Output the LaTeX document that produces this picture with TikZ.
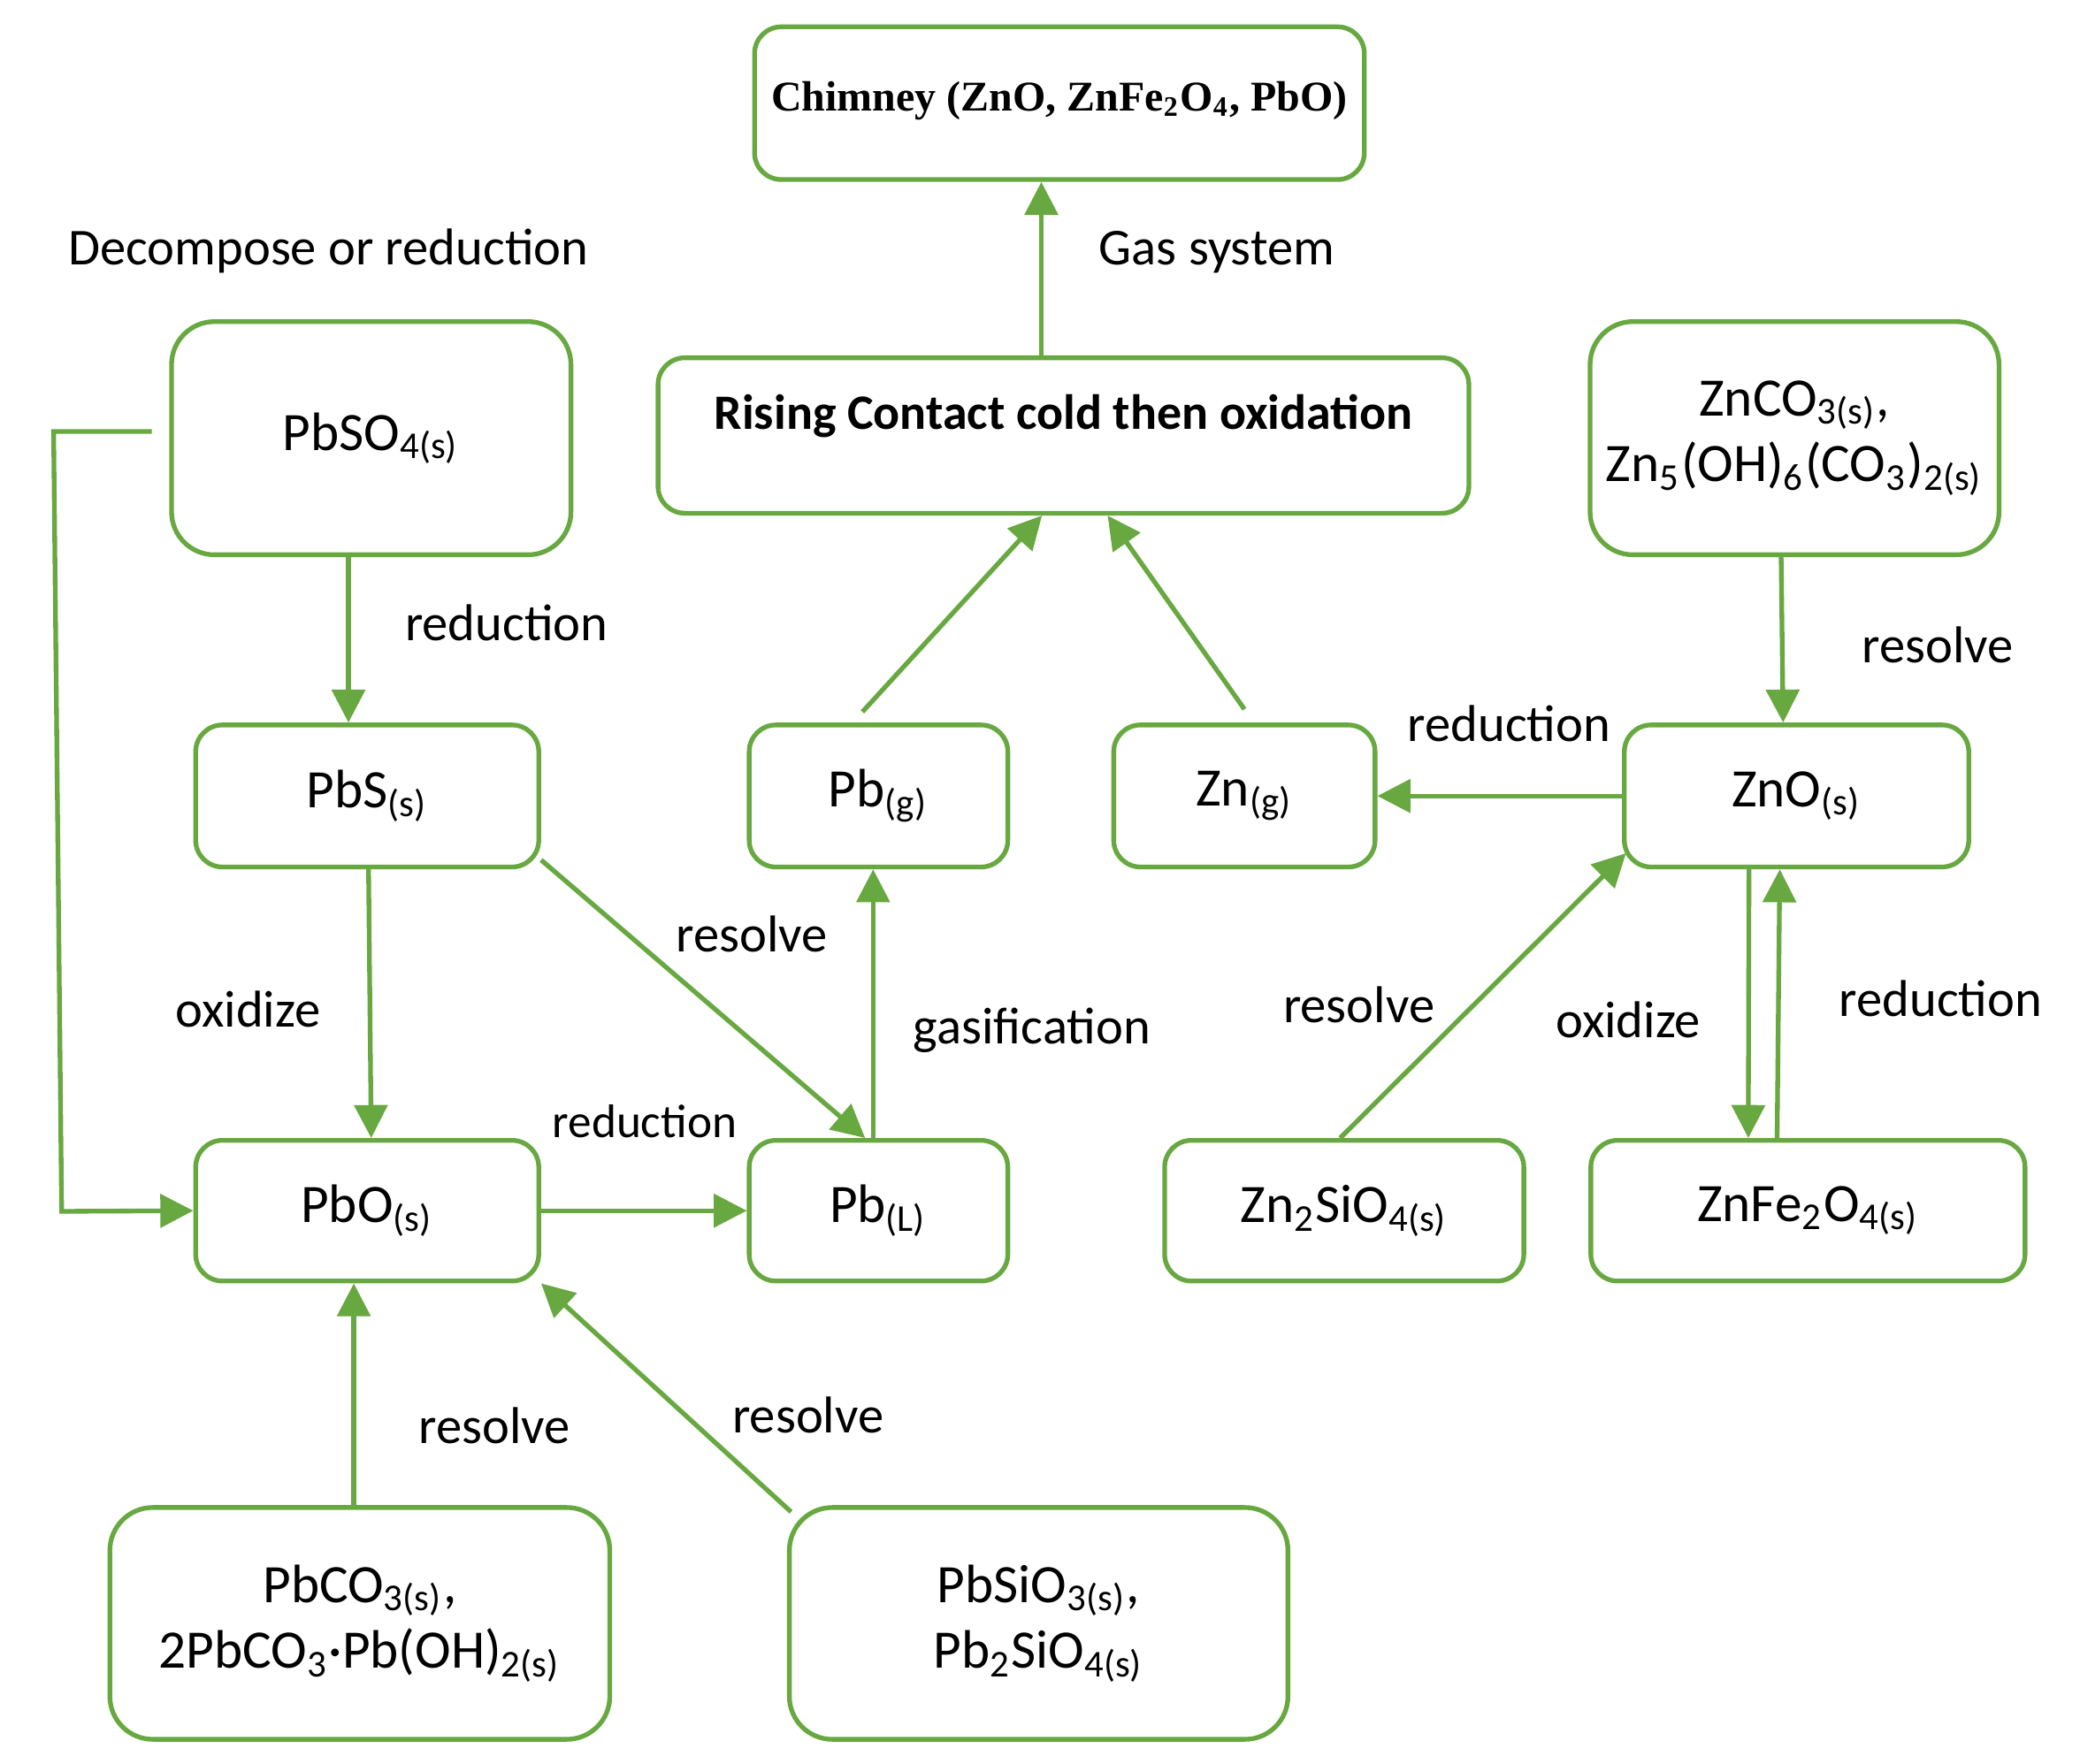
\documentclass[tikz,border=0pt]{standalone}
\usepackage{fontspec}
\setmainfont{Carlito}
\newfontfamily\tms{Liberation Serif}
\usetikzlibrary{arrows.meta,calc}
\definecolor{g}{RGB}{104,168,64}
\tikzset{
 box/.style={draw=g,line width=1pt,rounded corners=0.2cm,align=center,font=\fontsize{11.5}{14}\selectfont},
 bbox/.style={box,rounded corners=0.32cm},
 ar/.style={draw=g,line width=1pt,-{Triangle[length=7pt,width=7pt]}},
 lb/.style={font=\fontsize{11}{13}\selectfont},
}
\newcommand{\ssb}[1]{\textsubscript{#1}}
\begin{document}
\begin{tikzpicture}
\useasboundingbox (0,0) rectangle (15.52,-13.16);
\node[box,minimum width=4.55cm,minimum height=1.14cm,font=\tms\bfseries\fontsize{9}{11}\selectfont,text depth=0.1cm] (ch) at (7.905,-0.77) {Chimney (ZnO, ZnFe\ssb{2}O\ssb{4}, PbO)};
\node[box,minimum width=6.05cm,minimum height=1.16cm,font=\bfseries\fontsize{10.5}{13}\selectfont,text depth=0.35cm] (ri) at (7.935,-3.25) {Rising Contact cold then oxidation};
\node[bbox,minimum width=2.98cm,minimum height=1.74cm] (pbso) at (2.77,-3.27) {PbSO\ssb{4(s)}};
\node[bbox,minimum width=2.98cm,minimum height=1.74cm] (znco) at (13.39,-3.27) {ZnCO\ssb{3(s)},\\Zn\ssb{5}(OH)\ssb{6}(CO\ssb{3})\ssb{2(s)}};
\node[box,minimum width=2.56cm,minimum height=1.06cm] (pbs) at (2.74,-5.94) {PbS\ssb{(s)}};
\node[box,minimum width=1.93cm,minimum height=1.06cm] (pbg) at (6.555,-5.94) {Pb\ssb{(g)}};
\node[box,minimum width=1.95cm,minimum height=1.06cm] (zng) at (9.285,-5.94) {Zn\ssb{(g)}};
\node[box,minimum width=2.57cm,minimum height=1.06cm] (zno) at (13.405,-5.94) {ZnO\ssb{(s)}};
\node[box,minimum width=2.56cm,minimum height=1.05cm] (pbo) at (2.74,-9.035) {PbO\ssb{(s)}};
\node[box,minimum width=1.93cm,minimum height=1.05cm] (pbl) at (6.555,-9.035) {Pb\ssb{(L)}};
\node[box,minimum width=2.68cm,minimum height=1.05cm] (znsi) at (10.03,-9.035) {Zn\ssb{2}SiO\ssb{4(s)}};
\node[box,minimum width=3.24cm,minimum height=1.05cm] (znfe) at (13.49,-9.035) {ZnFe\ssb{2}O\ssb{4(s)}};
\node[bbox,minimum width=3.73cm,minimum height=1.73cm] (pbco) at (2.685,-12.115) {PbCO\ssb{3(s)},\\2PbCO\ssb{3}·Pb(OH)\ssb{2(s)}};
\node[bbox,minimum width=3.72cm,minimum height=1.73cm] (pbsi) at (7.75,-12.115) {PbSiO\ssb{3(s)},\\Pb\ssb{2}SiO\ssb{4(s)}};
% arrows
\path[ar] ([xshift=-0.165cm]ri.north) -- ([xshift=-0.135cm]ch.south);
\node[lb] (l1) at (9.08,-1.88) {Gas system};
\node[lb] (l0) at (2.45,-1.87) {Decompose or reduction};
\path[ar] ([xshift=-0.17cm]pbso.south) -- ([xshift=-0.14cm]pbs.north);
\node[lb] (l2) at (3.78,-4.65) {reduction};
\coordinate (c1) at (0.40,-3.22); \coordinate (c2) at (0.46,-9.04);
\path[ar] ([xshift=-0.13cm]pbso.west |- c1) -- (c1) -- (c2) -- (pbo.west);
\path[ar] ([xshift=0.01cm]pbs.south) -- ([xshift=0.03cm]pbo.north);
\node[lb] (l3) at (1.85,-7.53) {oxidize};
\path[ar] ([yshift=0.07cm]pbs.south east) -- ([xshift=-0.1cm]pbl.north);
\node[lb] (l4) at (5.61,-6.97) {resolve};
\path[ar] ([xshift=-0.04cm]pbl.north) -- ([xshift=-0.04cm]pbg.south);
\node[lb] (l5) at (7.70,-7.69) {gasification};
\path[ar] (pbo.east) -- (pbl.west);
\node[lb,font=\fontsize{10}{12}\selectfont] (l6) at (4.81,-8.37) {reduction};
\path[ar] ([shift={(-0.12cm,0.08cm)}]pbg.north) -- ([xshift=-0.16cm]ri.south);
\path[ar] ([yshift=0.1cm]zng.north) -- ([xshift=0.33cm]ri.south);
\path[ar] (zno.west) -- (zng.east);
\node[lb] (l7) at (11.26,-5.40) {reduction};
\path[ar] ([xshift=-0.1cm]znco.south) -- ([xshift=-0.1cm]zno.north);
\node[lb] (l8) at (14.46,-4.81) {resolve};
\path[ar] ([xshift=-0.03cm]znsi.north) -- ([shift={(0.03cm,0.12cm)}]zno.south west);
\node[lb,fill=white,inner sep=1pt] (l9) at (10.14,-7.50) {resolve};
\path[ar] ([xshift=-0.355cm]zno.south) -- ([xshift=-0.445cm]znfe.north);
\node[lb] (l10) at (12.15,-7.61) {oxidize};
\path[ar] ([xshift=-0.23cm]znfe.north) -- ([xshift=-0.125cm]zno.south);
\node[lb] (l11) at (14.48,-7.45) {reduction};
\path[ar] ([xshift=-0.045cm]pbco.north) -- ([xshift=-0.1cm]pbo.south);
\node[lb] (l12) at (3.69,-10.64) {resolve};
\path[ar] ([shift={(0.03cm,-0.05cm)}]pbsi.north west) -- (pbo.south east);
\node[lb,fill=white,inner sep=1pt] (l13) at (6.03,-10.56) {resolve};
\end{tikzpicture}
\end{document}
